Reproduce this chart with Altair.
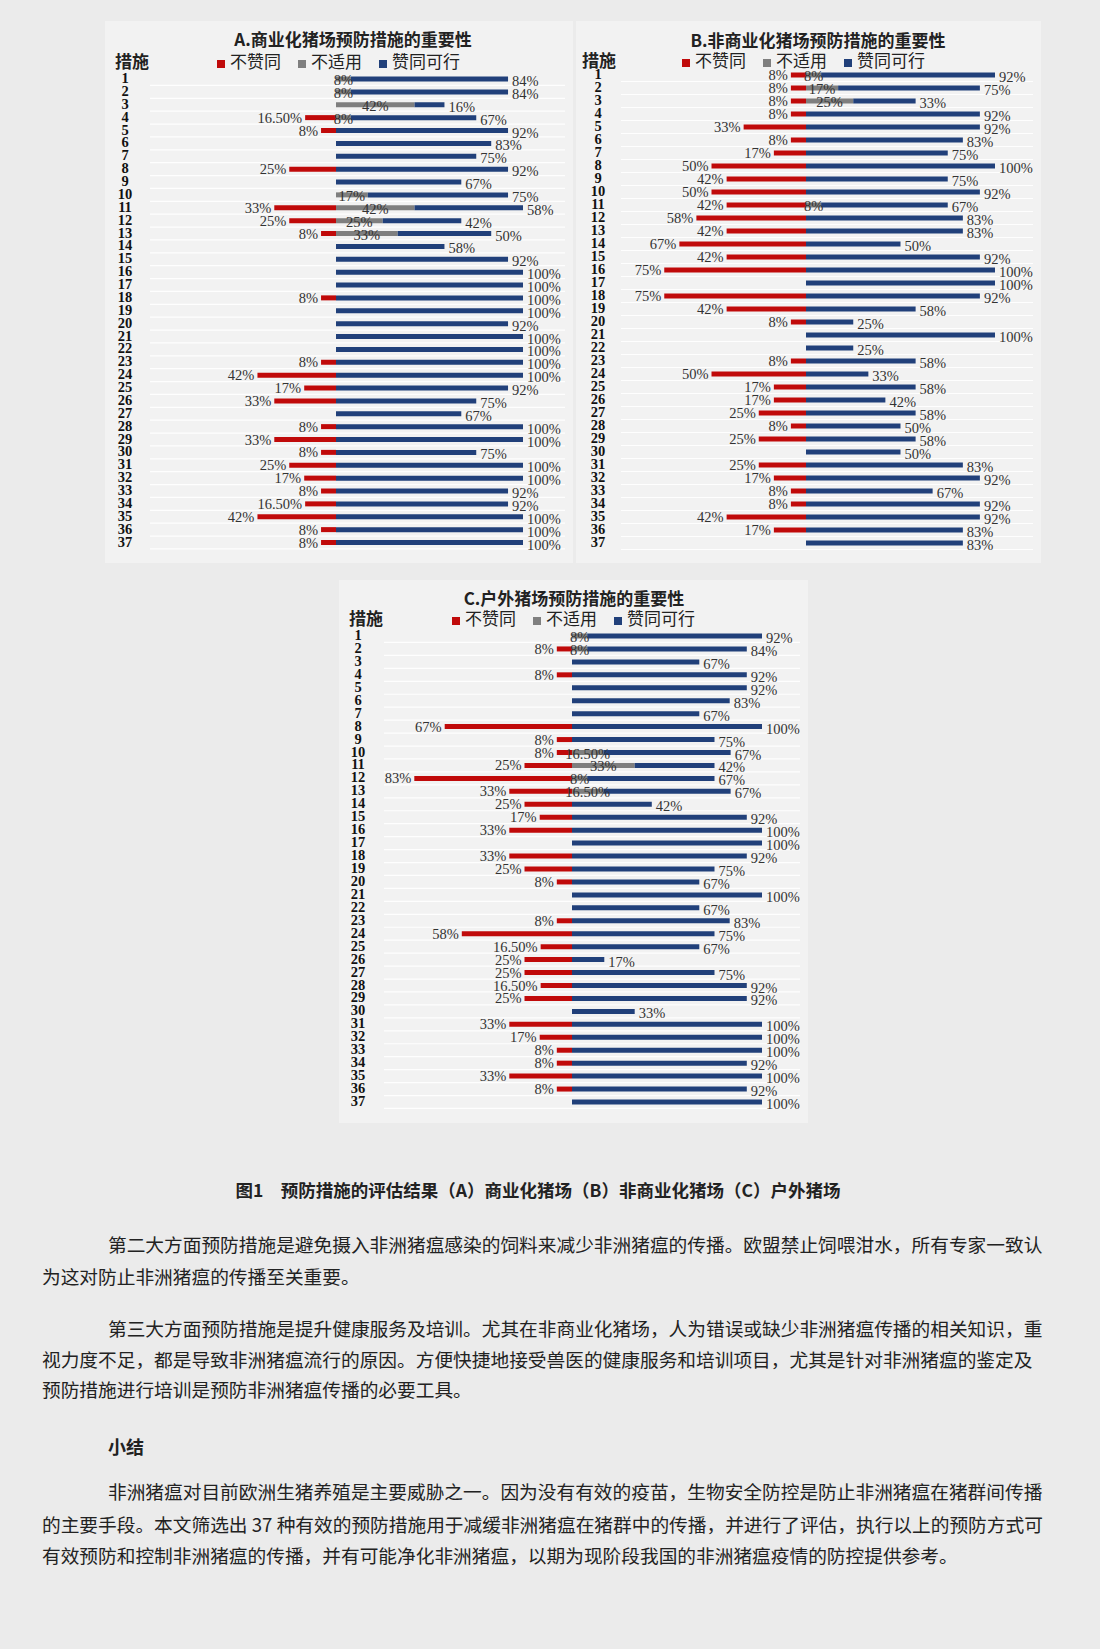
import altair as alt
import pandas as pd

rows = list(range(1, 38))

# Panel A: 商业化猪场
A_disagree = [0, 0, 0, 16.5, 8, 0, 0, 25, 0, 0, 33, 25, 8, 0, 0, 0, 0, 8, 0, 0, 0, 0, 8, 42, 17, 33, 0, 8, 33, 8, 25, 17, 8, 16.5, 42, 8, 8]
A_na = [8, 8, 42, 8, 0, 0, 0, 0, 0, 17, 42, 25, 33, 0, 0, 0, 0, 0, 0, 0, 0, 0, 0, 0, 0, 0, 0, 0, 0, 0, 0, 0, 0, 0, 0, 0, 0]
A_agree = [84, 84, 16, 67, 92, 83, 75, 92, 67, 75, 58, 42, 50, 58, 92, 100, 100, 100, 100, 92, 100, 100, 100, 100, 92, 75, 67, 100, 100, 75, 100, 100, 92, 92, 100, 100, 100]

# Panel B: 非商业化猪场
B_disagree = [8, 8, 8, 8, 33, 8, 17, 50, 42, 50, 42, 58, 42, 67, 42, 75, 0, 75, 42, 8, 0, 0, 8, 50, 17, 17, 25, 8, 25, 0, 25, 17, 8, 8, 42, 17, 0]
B_na = [8, 17, 25, 0, 0, 0, 0, 0, 0, 0, 8, 0, 0, 0, 0, 0, 0, 0, 0, 0, 0, 0, 0, 0, 0, 0, 0, 0, 0, 0, 0, 0, 0, 0, 0, 0, 0]
B_agree = [92, 75, 33, 92, 92, 83, 75, 100, 75, 92, 67, 83, 83, 50, 92, 100, 100, 92, 58, 25, 100, 25, 58, 33, 58, 42, 58, 50, 58, 50, 83, 92, 67, 92, 92, 83, 83]

# Panel C: 户外猪场
C_disagree = [0, 8, 0, 8, 0, 0, 0, 67, 8, 8, 25, 83, 33, 25, 17, 33, 0, 33, 25, 8, 0, 0, 8, 58, 16.5, 25, 25, 16.5, 25, 0, 33, 17, 8, 8, 33, 8, 0]
C_na = [8, 8, 0, 0, 0, 0, 0, 0, 0, 16.5, 33, 8, 16.5, 0, 0, 0, 0, 0, 0, 0, 0, 0, 0, 0, 0, 0, 0, 0, 0, 0, 0, 0, 0, 0, 0, 0, 0]
C_agree = [92, 84, 67, 92, 92, 83, 67, 100, 75, 67, 42, 67, 67, 42, 92, 100, 100, 92, 75, 67, 100, 67, 83, 75, 67, 17, 75, 92, 92, 33, 100, 100, 100, 92, 100, 92, 100]

titles = ["A.商业化猪场预防措施的重要性", "B.非商业化猪场预防措施的重要性", "C.户外猪场预防措施的重要性"]
legend_names = ["不赞同", "不适用", "赞同可行"]
row_header = "措施"

caption = "图1　预防措施的评估结果（A）商业化猪场（B）非商业化猪场（C）户外猪场"
para1 = ["第二大方面预防措施是避免摄入非洲猪瘟感染的饲料来减少非洲猪瘟的传播。欧盟禁止饲喂泔水，所有专家一致认",
         "为这对防止非洲猪瘟的传播至关重要。"]
para2 = ["第三大方面预防措施是提升健康服务及培训。尤其在非商业化猪场，人为错误或缺少非洲猪瘟传播的相关知识，重",
         "视力度不足，都是导致非洲猪瘟流行的原因。方便快捷地接受兽医的健康服务和培训项目，尤其是针对非洲猪瘟的鉴定及",
         "预防措施进行培训是预防非洲猪瘟传播的必要工具。"]
heading = "小结"
para3 = ["非洲猪瘟对目前欧洲生猪养殖是主要威胁之一。因为没有有效的疫苗，生物安全防控是防止非洲猪瘟在猪群间传播",
         "的主要手段。本文筛选出 37 种有效的预防措施用于减缓非洲猪瘟在猪群中的传播，并进行了评估，执行以上的预防方式可",
         "有效预防和控制非洲猪瘟的传播，并有可能净化非洲猪瘟，以期为现阶段我国的非洲猪瘟疫情的防控提供参考。"]

RED = "#c00a0a"
GRAY = "#7f7f7f"
BLUE = "#21407a"
PAGE_BG = "#ebebeb"
PANEL_BG = "#f2f2f2"
CJK = "Noto Sans CJK SC"
SERIF = "Liberation Serif"


def fmt(v):
    return f"{v:.2f}%" if v != int(v) else f"{int(v)}%"


def one():
    return pd.DataFrame({"k": [0]})


def panel(red, na, agree, title, geo):
    df = pd.DataFrame({"row": rows, "red": red, "na": na, "agree": agree})
    df["neg"] = -df["red"]
    df["zero"] = 0
    df["na_mid"] = df["na"] / 2
    df["end"] = df["na"] + df["agree"]
    df["red_lab"] = df["red"].map(fmt)
    df["na_lab"] = df["na"].map(fmt)
    df["agree_lab"] = df["agree"].map(fmt)
    df["grid"] = df["row"] + 0.5

    xs = alt.Scale(domain=[0, 100], range=[geo["x0"], geo["x0"] + geo["w"]], nice=False, zero=False)
    ys = alt.Scale(domain=[1, 37], range=[geo["y1"], geo["y37"]], nice=False, zero=False)

    def X(f):
        return alt.X(f, type="quantitative", scale=xs, axis=None)

    def Y(f):
        return alt.Y(f, type="quantitative", scale=ys, axis=None)

    base = alt.Chart(df)
    L, R, T, B = geo["box"]
    bg = alt.Chart(one()).mark_rect(color=PANEL_BG).encode(
        x=alt.value(L), x2=alt.value(R), y=alt.value(T), y2=alt.value(B))
    grid = base.mark_rule(color="#ffffff", strokeWidth=1.2, opacity=0.9).encode(
        y=Y("grid"), x=alt.value(L + 45), x2=alt.value(R - 8))
    red_bar = base.transform_filter("datum.red > 0").mark_rule(color=RED, strokeWidth=5, strokeCap="butt").encode(
        x=X("neg"), x2=alt.X2("zero"), y=Y("row"))
    na_bar = base.transform_filter("datum.na > 0").mark_rule(color=GRAY, strokeWidth=5, strokeCap="butt").encode(
        x=X("zero"), x2=alt.X2("na"), y=Y("row"))
    ag_bar = base.mark_rule(color=BLUE, strokeWidth=5, strokeCap="butt").encode(
        x=X("na"), x2=alt.X2("end"), y=Y("row"))
    tstyle = dict(font=SERIF, fontSize=14.5, color="#333333", baseline="middle")
    red_t = base.transform_filter("datum.red > 0").mark_text(align="right", dx=-3, dy=1, **tstyle).encode(
        x=X("neg"), y=Y("row"), text="red_lab")
    na_t = base.transform_filter("datum.na > 0").mark_text(align="center", dy=2, **tstyle).encode(
        x=X("na_mid"), y=Y("row"), text="na_lab")
    ag_t = base.mark_text(align="left", dx=4, dy=3, **tstyle).encode(
        x=X("end"), y=Y("row"), text="agree_lab")
    rl = base.mark_text(font=SERIF, fontSize=14.5, fontWeight="bold", color="#111111", baseline="middle",
                        align="center").encode(x=alt.value(geo["rlx"]), y=Y("row"), text="row:Q")
    tt = alt.Chart(one()).mark_text(font=CJK, fontSize=17, fontWeight="bold", color="#222222",
                                     baseline="middle", align="center").encode(
        x=alt.value(geo["tx"]), y=alt.value(geo["ty"]), text=alt.value(title))
    hdr = alt.Chart(one()).mark_text(font=CJK, fontSize=17, fontWeight="bold", color="#222222",
                                      baseline="middle", align="left").encode(
        x=alt.value(geo["hx"]), y=alt.value(geo["ly"]), text=alt.value(row_header))
    layers = [bg, grid, red_bar, na_bar, ag_bar, red_t, na_t, ag_t, rl, tt, hdr]
    offs = [0, 81, 162]
    cols = [RED, GRAY, BLUE]
    for name, off, c in zip(legend_names, offs, cols):
        sq = alt.Chart(one()).mark_square(color=c, size=64, opacity=1).encode(
            x=alt.value(geo["lx"] + off), y=alt.value(geo["ly"] + 1))
        lt = alt.Chart(one()).mark_text(font=CJK, fontSize=17, color="#222222", baseline="middle",
                                         align="left").encode(
            x=alt.value(geo["lx"] + off + 9), y=alt.value(geo["ly"]), text=alt.value(name))
        layers += [sq, lt]
    return alt.layer(*layers)


geoA = dict(x0=336, w=187, y1=79, y37=542.5, rlx=125, tx=353, ty=41, hx=115, lx=221, ly=63,
            box=(105, 573, 21, 563))
geoB = dict(x0=806, w=189, y1=75, y37=543, rlx=598, tx=818, ty=42, hx=582, lx=686, ly=62,
            box=(576, 1041, 21, 563))
geoC = dict(x0=572, w=190, y1=636, y37=1102, rlx=358, tx=574, ty=600, hx=349, lx=456, ly=620,
            box=(339, 808, 580, 1123))

pA = panel(A_disagree, A_na, A_agree, titles[0], geoA)
pB = panel(B_disagree, B_na, B_agree, titles[1], geoB)
pC = panel(C_disagree, C_na, C_agree, titles[2], geoC)


def txt(s, x, y, align="left", bold=False, size=18.7):
    return alt.Chart(one()).mark_text(font=CJK, fontSize=size, fontWeight="bold" if bold else "normal",
                                       color="#222222", baseline="middle", align=align).encode(
        x=alt.value(x), y=alt.value(y), text=alt.value(s))


text_layers = [txt(caption, 538, 1192, align="center", bold=True, size=17.5)]
for i, (s, y) in enumerate(zip(para1, [1246, 1278])):
    text_layers.append(txt(s, 108 if i == 0 else 42, y))
for i, (s, y) in enumerate(zip(para2, [1330, 1361, 1391])):
    text_layers.append(txt(s, 108 if i == 0 else 42, y))
text_layers.append(txt(heading, 108, 1449, bold=True, size=18))
for i, (s, y) in enumerate(zip(para3, [1493, 1526, 1557])):
    text_layers.append(txt(s, 108 if i == 0 else 42, y))

chart = alt.layer(pA, pB, pC, *text_layers).resolve_scale(
    x="independent", y="independent"
).properties(
    width=1100, height=1649, padding=0, autosize=alt.AutoSizeParams(type="none"), background=PAGE_BG
).configure_view(stroke=None)

chart.save("out.html", embed_options={"renderer": "svg", "actions": False})
